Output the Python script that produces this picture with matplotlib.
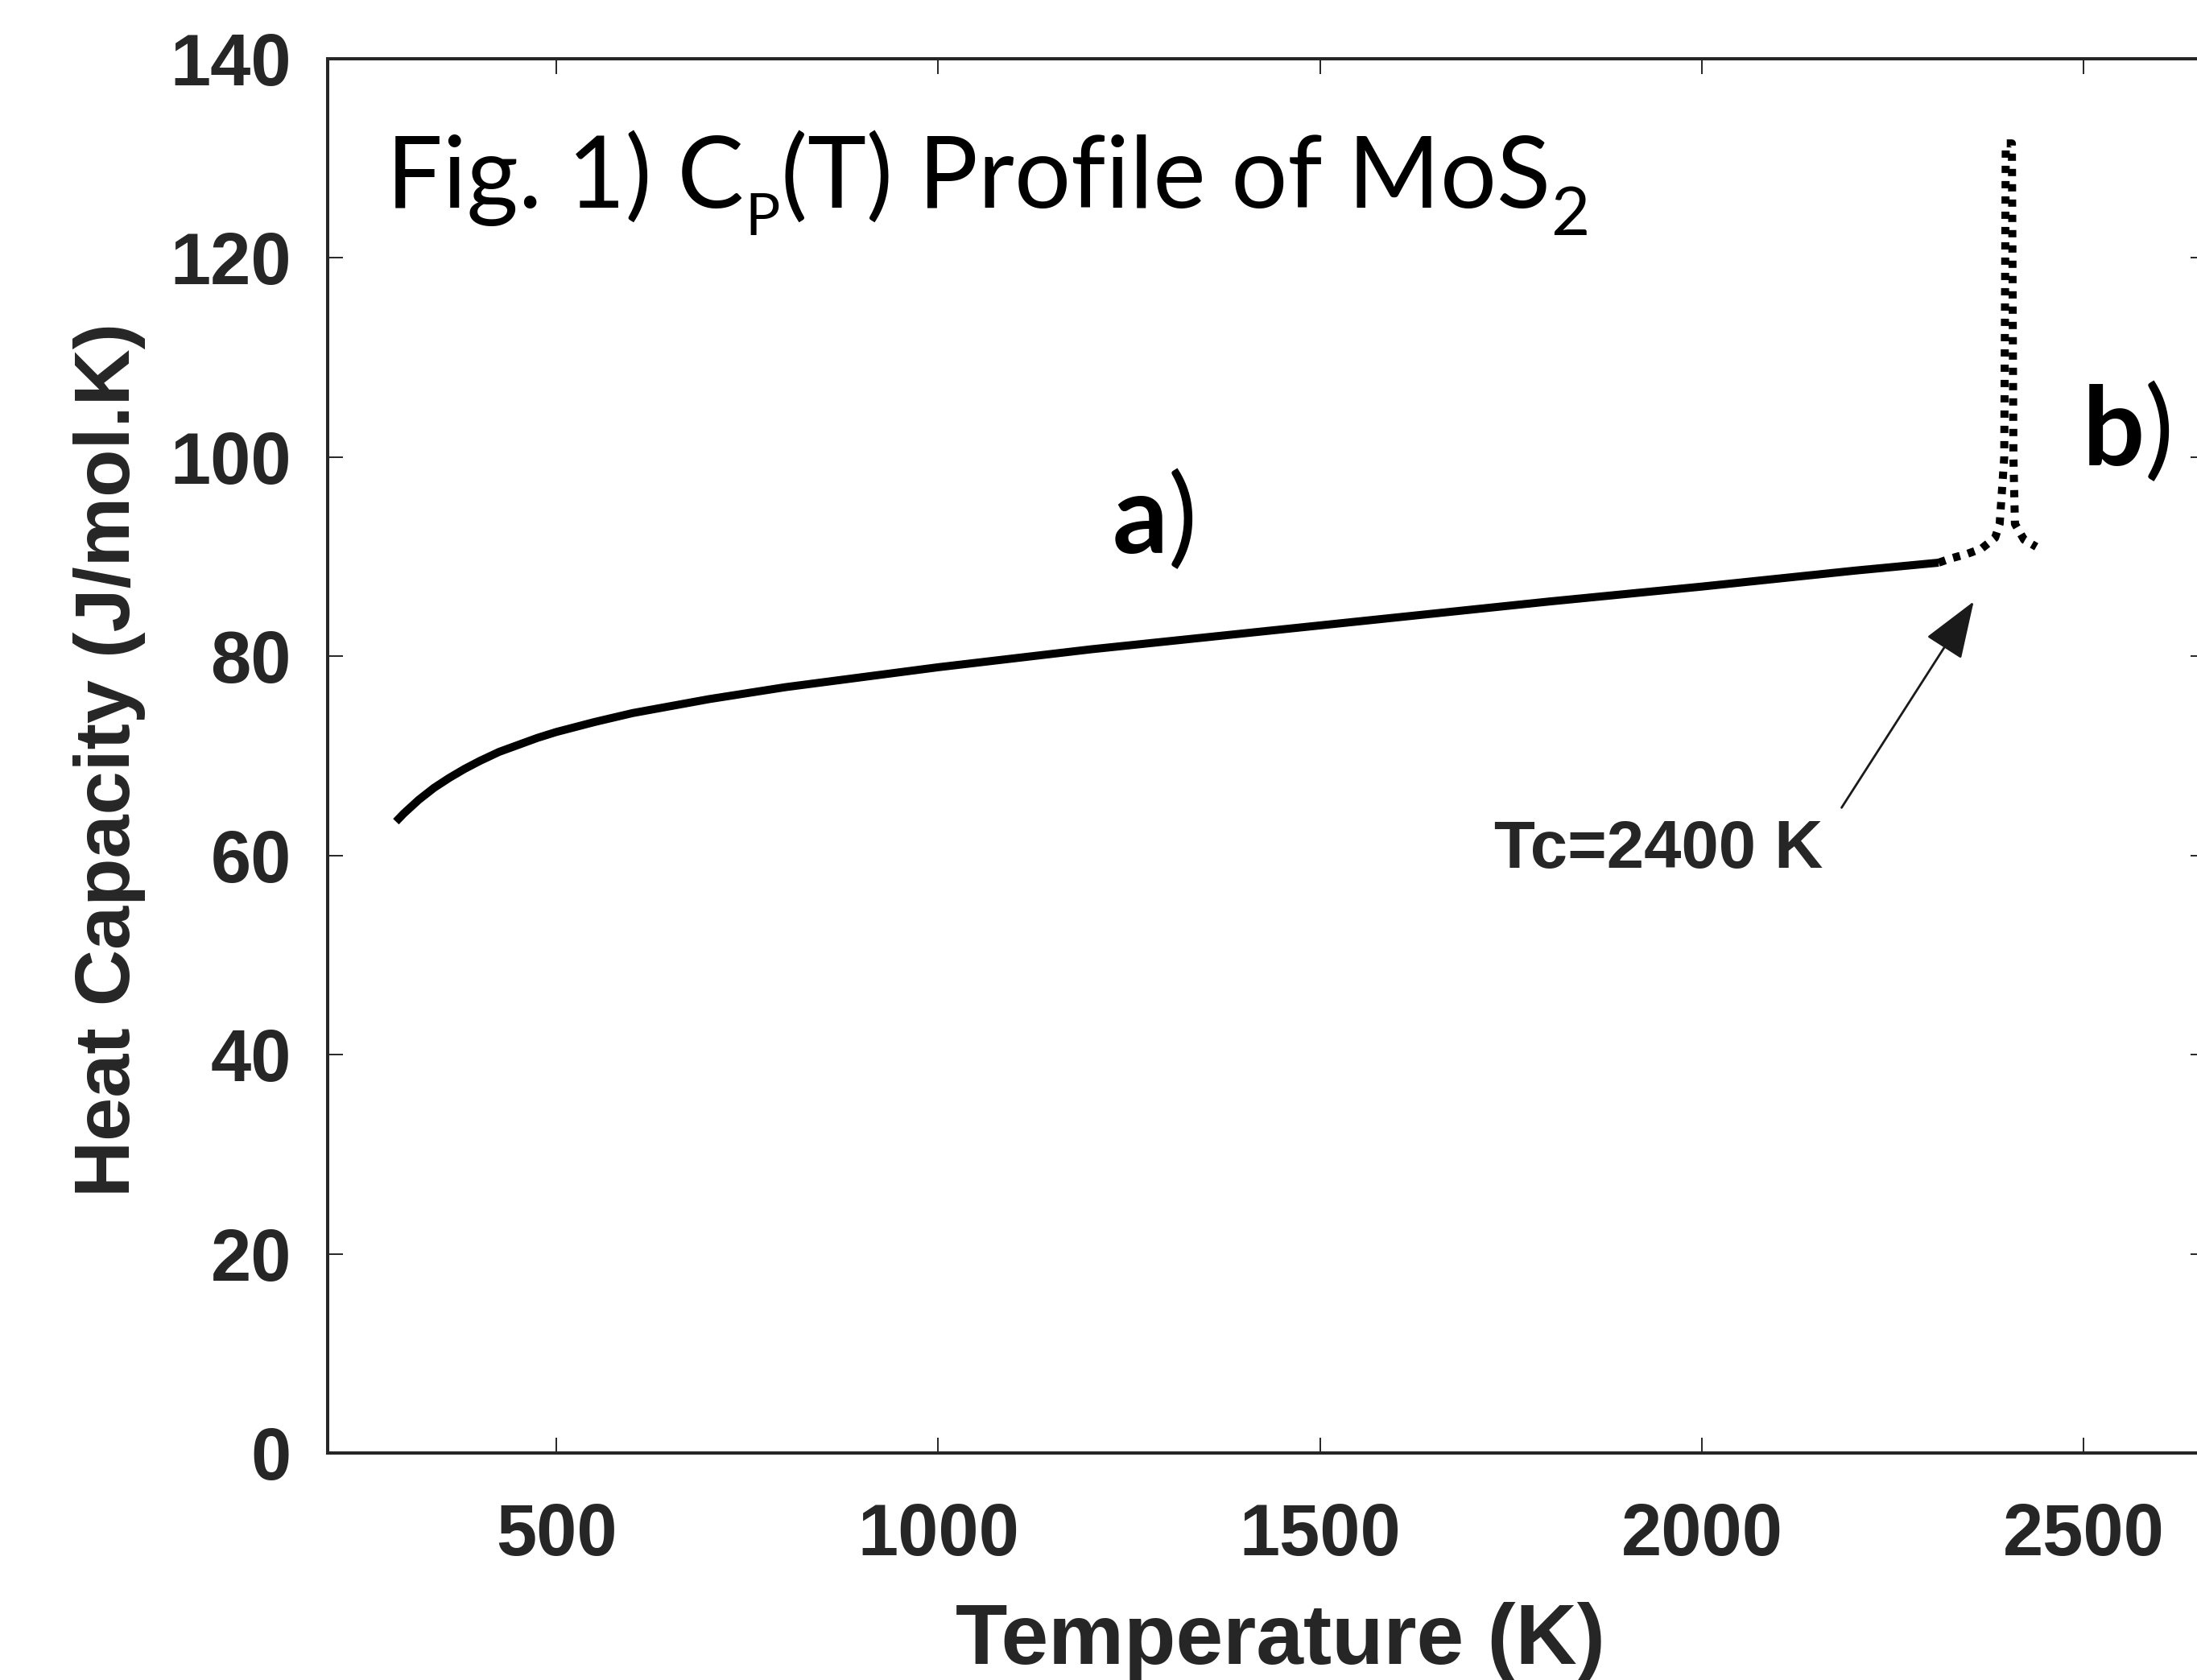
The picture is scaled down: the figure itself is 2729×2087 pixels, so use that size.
import matplotlib
matplotlib.use("Agg")
import matplotlib.pyplot as plt
from matplotlib.transforms import IdentityTransform

# ---- data ----
T_solid = [290, 300, 320, 340, 360, 380, 400, 425, 450, 475, 500, 550, 600, 650,
           700, 750, 800, 900, 1000, 1100, 1200, 1400, 1600, 1800, 2000, 2200, 2310]
Cp_solid = [63.4, 64.2, 65.6, 66.8, 67.8, 68.7, 69.5, 70.4, 71.1, 71.8, 72.4,
            73.4, 74.3, 75.0, 75.7, 76.3, 76.9, 77.9, 78.9, 79.8, 80.7, 82.3,
            83.9, 85.5, 87.0, 88.6, 89.4]

T_trans = [2310, 2325, 2348, 2366, 2384, 2390, 2396, 2398, 2406, 2408, 2410, 2422, 2438]
Cp_trans = [89.4, 89.8, 90.3, 90.8, 91.9, 93.3, 100, 131.5, 131.5, 100, 93.3, 91.7, 91.0]

x_ticks = [500, 1000, 1500, 2000, 2500]
y_ticks = [0, 20, 40, 60, 80, 100, 120, 140]

# title pieces: (text, font size, drop below baseline in px)
title_parts = [("Fig. 1) C", 89, 0), ("P", 52, 34), ("(T) Profile of MoS", 89, 0), ("2", 60, 34)]
tc_label = "Tc=2400 K"
tc_point = (2356, 85.5)
tc_text_pos = (2183, 64.8)

plt.rcParams['mathtext.fontset'] = 'custom'
plt.rcParams['mathtext.rm'] = 'Lato'
plt.rcParams['mathtext.it'] = 'Lato:italic'
plt.rcParams['mathtext.bf'] = 'Lato:bold'

W, H = 2729, 2087
fig = plt.figure(figsize=(W / 100, H / 100), dpi=100)
fig.patch.set_facecolor('white')

ax_left, ax_right = 406.5, 2740
ax_top, ax_bot = 73, 1805
ax = fig.add_axes([ax_left / W, 1 - ax_bot / H, (ax_right - ax_left) / W, (ax_bot - ax_top) / H])

axcol = '#262626'
ax.plot(T_solid, Cp_solid, color='black', lw=7.2, solid_capstyle='butt',
        solid_joinstyle='round')
ax.plot(T_trans, Cp_trans, color='black', lw=7.2, ls=(0, (0.9, 1.0)),
        dash_capstyle='butt')

ax.set_xlim(200, 2660)
ax.set_ylim(0, 140)
ax.set_xticks(x_ticks)
ax.set_yticks(y_ticks)

tickfont = dict(family='Liberation Sans', weight='bold', size=65)
ax.set_xticklabels([str(v) for v in x_ticks], fontdict=tickfont, color=axcol)
ax.set_yticklabels([str(v) for v in y_ticks], fontdict=tickfont, color=axcol)

ax.tick_params(axis='both', direction='in', length=13.7, width=1.4, color=axcol,
               top=True, right=True)
ax.tick_params(axis='x', pad=44)
ax.tick_params(axis='y', pad=32)
for s in ax.spines.values():
    s.set_linewidth(2.9)
    s.set_color(axcol)

# axis labels
fig.text(1590 / W, 1 - 1990 / H, "Temperature (K)", ha='center', va='top',
         family='Liberation Sans', weight='bold', size=76, color=axcol)
fig.text(136 / W, 1 - 944 / H, "Heat Capacity (J/mol.K)", ha='center', va='center',
         rotation=90, family='Liberation Sans', weight='bold', size=70, color=axcol)

# title inside the plot, built piece by piece (pixel coordinates)
renderer = fig.canvas.get_renderer()
x_px = 480
base_px = H - 258
for txt, size, drop in title_parts:
    t = fig.text(x_px, base_px - drop, txt,
                 transform=IdentityTransform(), ha='left', va='baseline',
                 family='Lato', size=size, color='black')
    bb = t.get_window_extent(renderer)
    x_px = bb.x1 + 1

# panel letters
ax.text(1227, 90.4, r"$\mathbf{a}$)", ha='left', va='baseline', family='Lato',
        size=98, color='black')
ax.text(2498, 99.2, r"$\mathbf{b}$)", ha='left', va='baseline', family='Lato',
        size=98, color='black')

# Tc annotation
ax.annotate('', xy=tc_point, xytext=tc_text_pos,
            arrowprops=dict(arrowstyle='-|>,head_length=0.6,head_width=0.22',
                            mutation_scale=75, lw=2.0, color='#1a1a1a',
                            shrinkA=0, shrinkB=0))
ax.text(1728, 58.8, tc_label, ha='left', va='baseline', family='Liberation Sans',
        weight='bold', size=60, color=axcol)

fig.savefig('out.png', dpi=100, facecolor='white')
